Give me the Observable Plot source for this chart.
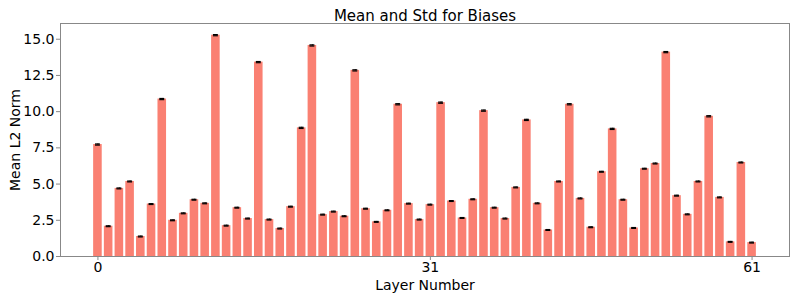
<!DOCTYPE html>
<html>
<head>
<meta charset="utf-8">
<script src="https://cdn.jsdelivr.net/npm/d3@7"></script>
<script src="https://cdn.jsdelivr.net/npm/@observablehq/plot@0.6"></script>
<style>
  html, body { margin: 0; padding: 0; background: #fff; }
  svg { font-family: "DejaVu Sans", sans-serif; }
</style>
</head>
<body>
<div id="chart"></div>
<script>
const title = "Mean and Std for Biases";
const xLabel = "Layer Number";
const yLabel = "Mean L2 Norm";
const layers = [0,1,2,3,4,5,6,7,8,9,10,11,12,13,14,15,16,17,18,19,20,21,22,23,24,25,26,27,28,29,30,31,32,33,34,35,36,37,38,39,40,41,42,43,44,45,46,47,48,49,50,51,52,53,54,55,56,57,58,59,60,61];
const means = [7.73,2.09,4.70,5.18,1.38,3.62,10.87,2.50,2.98,3.92,3.67,15.28,2.13,3.37,2.62,13.42,2.55,1.93,3.44,8.88,
  14.57,2.89,3.10,2.78,12.85,3.30,2.39,3.19,10.51,3.65,2.55,3.58,10.62,3.83,2.66,3.95,10.07,3.37,2.62,4.77,
  9.43,3.67,1.83,5.18,10.51,4.01,2.02,5.85,8.81,3.92,1.97,6.06,6.42,14.11,4.20,2.91,5.18,9.68,4.08,1.01,6.49,0.96];
const stds = [0.04,0.03,0.03,0.03,0.03,0.03,0.04,0.03,0.03,0.03,0.03,0.04,0.03,0.03,0.03,0.04,0.03,0.03,0.03,0.04,
  0.04,0.03,0.03,0.03,0.04,0.03,0.03,0.03,0.04,0.03,0.03,0.03,0.04,0.03,0.03,0.03,0.04,0.03,0.03,0.03,
  0.04,0.03,0.03,0.03,0.04,0.03,0.03,0.03,0.04,0.03,0.03,0.03,0.03,0.04,0.03,0.03,0.03,0.04,0.03,0.03,0.03,0.03];
const xTicks = [0, 31, 61];
const yTicks = [0, 2.5, 5, 7.5, 10, 12.5, 15];

const data = layers.map((l, i) => ({layer: l, mean: means[i], std: stds[i]}));
const barHalf = 0.4;
const capHalf = 0.23;
const xMin = -barHalf - 0.05 * (61 + 2 * barHalf);
const xMax = 61 + barHalf + 0.05 * (61 + 2 * barHalf);
const yMax = d3.max(data, d => d.mean + d.std) * 1.05;

const chart = Plot.plot({
  width: 797,
  height: 299,
  marginLeft: 60,
  marginRight: 8,
  marginTop: 23,
  marginBottom: 43,
  style: {fontFamily: "DejaVu Sans, sans-serif", fontSize: "14px", color: "#000", background: "#fff"},
  x: {domain: [xMin, xMax]},
  y: {domain: [0, yMax]},
  marks: [
    Plot.rectY(data, {x1: d => d.layer - barHalf, x2: d => d.layer + barHalf, y1: 0, y2: "mean", fill: "#fa8072"}),
    Plot.ruleX(data, {x: "layer", y1: d => d.mean - d.std, y2: d => d.mean + d.std, stroke: "#000", strokeWidth: 1}),
    Plot.ruleY(data, {y: d => d.mean + d.std, x1: d => d.layer - capHalf, x2: d => d.layer + capHalf, stroke: "#000", strokeWidth: 1.2}),
    Plot.ruleY(data, {y: d => d.mean - d.std, x1: d => d.layer - capHalf, x2: d => d.layer + capHalf, stroke: "#000", strokeWidth: 1.2}),
    Plot.frame({stroke: "#888", strokeWidth: 1}),
    Plot.axisX({ticks: xTicks, tickFormat: d => String(d), tickSize: 4, tickPadding: 2, stroke: "#888",
      label: xLabel, labelAnchor: "center", labelArrow: "none", labelOffset: 33, fontSize: 14, fill: "#000"}),
    Plot.axisY({ticks: yTicks, tickFormat: d3.format(".1f"), tickSize: 4, tickPadding: 2, stroke: "#888",
      label: yLabel, labelAnchor: "center", labelArrow: "none", labelOffset: 50, fontSize: 14, fill: "#000"}),
    Plot.text([title], {text: d => d, frameAnchor: "top", dy: -13, fontSize: 15, fill: "#000"})
  ]
});
document.getElementById("chart").appendChild(chart);
</script>
</body>
</html>
